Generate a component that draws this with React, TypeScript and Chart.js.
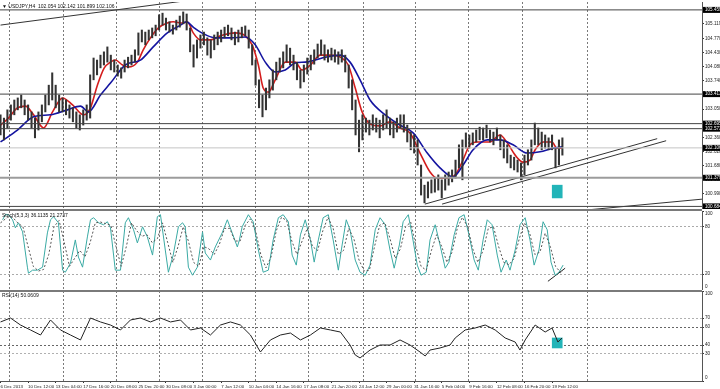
import React, { useEffect, useRef } from "react";
import { Chart, registerables } from "chart.js";
Chart.register(...registerables);

const FONT = "'Liberation Sans', Arial, sans-serif";

// ---------- data (x = sample index, one sample = 2 H4 bars) ----------
const candleHigh = [
  102.91,102.83,103.03,103.15,103.27,103.32,103.39,103.27,103.15,102.98,
  102.83,102.98,103.15,103.39,103.63,103.93,103.63,103.39,103.32,103.27,
  103.15,103.08,102.98,102.91,103.03,103.15,103.88,104.29,104.24,104.36,
  104.44,104.56,104.36,104.24,104.12,104.05,104.24,104.31,104.36,104.49,
  104.90,104.97,104.92,104.97,105.02,105.09,105.34,105.38,105.26,105.17,
  105.09,105.21,105.31,105.41,105.36,105.02,104.61,104.73,104.85,104.92,
  104.78,104.73,104.85,104.92,104.97,105.04,105.09,105.02,104.92,104.97,
  105.04,105.07,104.97,104.61,104.24,103.76,103.39,103.56,103.76,104.00,
  104.19,104.29,104.44,104.61,104.53,104.36,104.19,104.00,104.12,104.29,
  104.36,104.49,104.63,104.73,104.61,104.49,104.53,104.49,104.44,104.49,
  104.36,104.12,103.76,103.27,102.78,102.91,102.83,102.78,102.91,102.83,
  102.78,102.91,103.03,102.83,102.74,102.83,102.91,102.91,102.66,102.49,
  102.42,102.30,101.69,101.20,101.28,101.33,101.37,101.45,101.33,101.45,
  101.52,101.57,101.81,102.18,102.30,102.47,102.42,102.47,102.54,102.61,
  102.59,102.66,102.54,102.49,102.59,102.42,102.30,102.18,101.93,101.88,
  101.81,101.74,101.93,102.06,102.30,102.71,102.59,102.49,102.42,102.35,
  102.42,102.10,102.30,102.35
];
const candleLow = [
  102.42,102.30,102.59,102.78,102.91,103.03,103.08,102.91,102.78,102.59,
  102.35,102.54,102.74,102.98,103.15,103.27,103.08,102.98,102.98,102.91,
  102.83,102.74,102.59,102.54,102.66,102.78,102.83,103.76,103.88,104.05,
  104.12,104.19,104.00,103.95,103.85,103.80,103.95,104.05,104.12,104.19,
  104.36,104.68,104.61,104.73,104.78,104.83,104.97,105.09,104.97,104.92,
  104.87,104.97,105.04,105.12,104.97,104.44,104.07,104.29,104.53,104.61,
  104.36,104.29,104.49,104.61,104.68,104.78,104.83,104.73,104.61,104.68,
  104.78,104.83,104.53,104.12,103.63,103.08,102.86,103.03,103.32,103.51,
  103.76,103.95,104.05,104.19,104.12,104.00,103.76,103.56,103.71,103.90,
  104.00,104.14,104.29,104.36,104.24,104.19,104.24,104.19,104.14,104.19,
  103.95,103.56,103.03,102.42,102.01,102.30,102.49,102.42,102.54,102.49,
  102.35,102.54,102.59,102.42,102.35,102.49,102.59,102.49,102.25,102.06,
  101.98,101.69,100.96,100.77,100.89,101.01,101.03,101.08,100.89,101.08,
  101.20,101.28,101.37,101.62,101.33,102.10,102.10,102.18,102.25,102.30,
  102.30,102.35,102.25,102.18,102.30,102.06,101.86,101.74,101.62,101.57,
  101.52,101.33,101.45,101.69,101.81,102.18,102.18,102.06,102.10,102.06,
  102.06,101.62,101.69,101.93
];

const redMa = [
  [0,102.66],[2.3,102.83],[4.9,103.08],[7.2,103.12],[9.6,102.91],[12.5,102.59],[15.1,102.98],
  [18,103.32],[20.9,103.15],[24.1,102.91],[26.1,103.08],[28.1,103.63],[30.1,104.05],[31.9,104.19],
  [33.3,104.24],[35.4,104.12],[37.1,104.07],[39.7,104.19],[41.4,104.49],[43.5,104.78],[45.8,105.02],
  [48.4,105.14],[50.1,105.17],[52.8,105.14],[54.2,105.17],[55.9,104.90],[58,104.73],[60.9,104.73],
  [63.8,104.83],[68.1,104.90],[71,104.83],[73,104.61],[74.8,104.12],[76.2,103.56],[77.7,103.46],
  [79.7,103.76],[82.6,104.19],[85.5,104.19],[87.5,104.00],[89.9,104.12],[92.8,104.36],[95.7,104.36],
  [98.6,104.31],[100.9,104.12],[102.9,103.56],[104.9,102.98],[107.2,102.69],[110.1,102.64],[113,102.74],
  [115.9,102.59],[118.8,102.47],[121.7,101.98],[124.6,101.52],[126.7,101.37],[129.6,101.37],[131.9,101.45],
  [133.9,101.76],[136.2,102.18],[138.3,102.25],[142,102.25],[144.9,102.42],[147,102.23],[149.3,101.93],
  [151.6,101.76],[153.6,101.81],[155.1,102.06],[157.4,102.25],[160,102.25],[161.4,102.10],[162.9,102.10]
];
const blueMa = [
  [0,102.25],[4.9,102.54],[9.6,102.86],[14.5,102.91],[19.4,103.03],[23.2,103.12],[25.5,102.98],
  [29,103.39],[31.9,103.68],[36.2,104.12],[40.6,104.24],[44.3,104.56],[48.4,104.90],[52.2,105.09],
  [53.9,105.17],[55.9,105.04],[58,104.92],[62.3,104.78],[66.7,104.78],[71,104.80],[73.9,104.61],
  [76.8,104.19],[79.7,103.95],[82.6,104.00],[85.5,104.17],[88.4,104.19],[91.3,104.24],[94.2,104.31],
  [98.6,104.36],[101.4,104.19],[104.3,103.76],[107.2,103.27],[111.6,102.91],[115.9,102.66],[119.7,102.47],
  [123.8,101.98],[127.5,101.62],[131.3,101.40],[134.2,101.69],[137.1,102.06],[141.2,102.30],[144.9,102.30],
  [148.7,102.18],[152.8,101.98],[156.5,102.01],[160.3,102.10],[162.9,102.13]
];

const stochMain = [
  [0.6,88.9],[1.4,95.3],[2.3,95.3],[3.5,88.9],[4.3,78.7],[5.2,85.1],[6.4,73.6],[7.8,28.9],[8.1,21.3],
  [9.3,25.1],[10.7,25.1],[12.2,28.9],[13.6,72.3],[14.5,88.9],[15.4,92.8],[16.8,85.1],[18,25.1],[18.8,22.5],
  [20.3,34],[21.7,63.4],[22.6,41.7],[23.8,28.9],[25.2,67.2],[26.1,88.9],[27,91.5],[28.4,85.1],[29.9,82.6],
  [31,86.4],[31.9,78.7],[33.3,25.1],[34.8,25.1],[36.2,85.1],[37.1,91.5],[38.6,76.2],[39.7,59.6],[41.2,80],
  [42.6,67.2],[44.1,44.2],[45.5,92.8],[46.4,95.3],[47.8,50.6],[48.7,22.5],[50.1,44.2],[51.6,80],[52.8,85.1],
  [53.6,80],[54.5,28.9],[55.7,18.7],[57.1,28.9],[58.6,73.6],[59.4,46.8],[60.9,37.9],[62.3,54.5],[64.3,72.3],
  [65.8,88.9],[67.2,72.3],[68.7,54.5],[69.3,63.4],[70.1,80],[71.9,95.3],[73.3,86.4],[74.8,50.6],[76.2,22.5],
  [77.7,25.1],[79.1,63.4],[80.6,91.5],[82,95.3],[83.5,86.4],[84.6,44.2],[85.8,31.5],[87,69.8],[88.4,88.9],
  [89.9,63.4],[91,35.3],[92.2,63.4],[93.6,91.5],[95.1,95.3],[96.5,63.4],[98,25.1],[99.1,57],[100.3,88.9],
  [101.4,76.2],[102.9,37.9],[104.3,22.5],[105.8,18.7],[107.2,31.5],[108.7,76.2],[110.1,91.5],[111.6,82.6],
  [113,50.6],[114.2,27.6],[115.7,57],[116.8,86.4],[118.3,95.3],[119.4,69.8],[120.9,31.5],[122,18.7],
  [123.5,22.5],[124.6,63.4],[126.1,82.6],[127.5,57],[129,27.6],[130.1,35.3],[131.6,69.8],[133,91.5],
  [134.5,95.3],[135.9,69.8],[137.4,37.9],[138.6,25.1],[140,63.4],[141.2,88.9],[142.6,82.6],[144.1,44.2],
  [145.2,22.5],[146.7,37.9],[147.8,25.1],[149.3,50.6],[150.7,82.6],[152.2,91.5],[153.6,63.4],[154.8,31.5],
  [156.2,50.6],[157.4,86.4],[158.6,76.2],[159.7,35.3],[160.9,18.7],[162,22.5],[163.2,31.5]
];
const stochSignal = [
  [0,85],[2,92],[3.5,92],[5,85],[6.5,80],[8,55],[9.5,30],[11,24],[12.5,26],[14,45],[15.5,80],[17,88],
  [18.5,60],[20,30],[21.5,40],[23,50],[24.5,42],[26,60],[27.5,85],[29,86],[30.5,84],[32,82],[33.5,55],
  [35,30],[36.5,55],[38,85],[39.5,75],[41,68],[42.5,70],[44,60],[45.5,65],[47,85],[48.5,60],[50,35],
  [51.5,55],[53,80],[54.5,62],[56,35],[57.5,30],[59,55],[60.5,52],[62,45],[63.5,58],[65,78],[66.5,78],
  [68,62],[69.5,62],[71,82],[72.5,90],[74,75],[75.5,45],[77,28],[78.5,42],[80,75],[81.5,92],[83,88],
  [84.5,62],[86,45],[87.5,62],[89,78],[90.5,55],[92,50],[93.5,75],[95,92],[96.5,78],[98,45],[99.5,50],
  [101,78],[102.5,65],[104,38],[105.5,24],[107,25],[108.5,55],[110,82],[111.5,85],[113,65],[114.5,40],
  [116,52],[117.5,80],[119,86],[120.5,55],[122,30],[123.5,25],[125,50],[126.5,70],[128,55],[129.5,35],
  [131,48],[132.5,78],[134,92],[135.5,80],[137,52],[138.5,35],[140,50],[141.5,78],[143,80],[144.5,55],
  [146,35],[147.5,32],[149,40],[150.5,65],[152,85],[153.5,72],[155,45],[156.5,48],[158,72],[159.5,55],
  [161,30],[162.5,22],[163.2,25]
];
const rsiValues = [
  [0,65.6],[2.9,70],[5.8,62.2],[8.7,56.7],[11.6,51.1],[14.5,67.8],[17.4,56.7],[20.3,51.1],[23.2,45.6],
  [26.1,70],[29,65.6],[31.9,62.2],[34.8,56.7],[37.7,67.8],[40.6,70],[43.5,65.6],[46.4,70],[49.3,65.6],
  [52.2,67.8],[55.1,56.7],[58,58.9],[60.9,51.1],[63.8,62.2],[66.7,65.6],[69.6,62.2],[72.5,51.1],[75.4,32.2],
  [78.3,45.6],[81.2,51.1],[84.1,53.3],[87,45.6],[89.9,51.1],[92.8,58.9],[95.7,56.7],[98.6,54.4],[101.4,40],
  [102.9,28.9],[104.3,25.6],[107.2,34.4],[110.1,40],[113,40],[115.9,45.6],[118.8,40],[121.7,32.2],
  [123.2,27.8],[124.6,34.4],[127.5,36.7],[130.4,40],[131.9,47.8],[134.8,56.7],[137.7,58.9],[140.6,62.2],
  [143.5,56.7],[146.4,47.8],[149.3,43.3],[150.7,34.4],[152.2,45.6],[155.1,62.2],[158,54.4],[160,58.9],
  [161.7,43.3],[162.9,47.8]
];

const priceTickLabels = ["105.119","104.770","104.430","104.080","103.740","103.390","103.050",
  "102.700","102.360","102.020","101.680","101.330","100.990","100.650"];
const levelPrices = [105.459, 103.413, 102.695, 102.573, 102.106, 101.379, 100.684];
const trendTop = [[0,105.09],[60,105.75]];
const trendBottom = [[170.4,100.60],[203.5,100.86]];
const channelUpper = [[123.1,100.74],[190.5,102.33]];
const channelLower = [[128.1,100.74],[193.1,102.28]];
const stochTrend = [[158.8,11],[163.8,27.6]];
const markerPos = 161.5;
const markerPrice = [100.89, 101.20];
const markerRsi = [36.7, 47.8];

const weekStarts = [2.6,18.3,33.6,46.1,58.6,73.9,89.3,105.2,120.3,135.7,151.3,170.4];
const timeLabels = ["6 Dec 2013","10 Dec 12:00","13 Dec 04:00","17 Dec 16:00","20 Dec 08:00",
  "25 Dec 20:00","30 Dec 08:00","3 Jan 00:00","7 Jan 12:00","10 Jan 04:00","14 Jan 16:00",
  "17 Jan 08:00","21 Jan 20:00","24 Jan 12:00","29 Jan 00:00","31 Jan 16:00","5 Feb 04:00",
  "9 Feb 16:00","12 Feb 08:00","16 Feb 20:00","19 Feb 12:00"];
const stochTicks = [0, 20, 80, 100];
const stochLevels = [20, 80];
const rsiTicks = [0, 30, 40, 60, 70, 100];
const rsiLevels = [30, 40, 60, 70];

const mainTitle = "\u25BC USDJPY,H4  102.054 102.142 101.899 102.106";
const stochTitle = "Stoch(5,3,3) 36.1135 21.2737";
const rsiTitle = "RSI(14) 50.0609";

// ---------- view constants ----------
const X_MIN = -0.15, X_MAX = 203.5;
const Y_MIN = 100.621, Y_MAX = 105.651;
const levelColors = ["#444","#444","#444","#444","#c4c4c4","#9c9c9c","#444"];
const levelWidths = [1,1,1,1,1,2,1];

const pts = (arr: number[][]) => arr.map(([x, y]) => ({ x, y }));

function zeroPad(s: any) { s.paddingTop = 0; s.paddingBottom = 0; s.paddingLeft = 0; s.paddingRight = 0; }

function xGrid(): any {
  return {
    type: "linear", min: X_MIN, max: X_MAX, position: "bottom", offset: false,
    afterBuildTicks: (s: any) => { s.ticks = weekStarts.map((v) => ({ value: v })); },
    afterFit: (s: any) => { s.height = 0; zeroPad(s); },
    ticks: { display: false },
    grid: { color: "#7a7a7a", lineWidth: 1, drawTicks: false, offset: false },
    border: { display: false, dash: [2, 2] },
  };
}

function yAxis(min: number, max: number, vals: number[], label: (v: number) => string, levels: number[] | null, levelColor?: (v: number) => string): any {
  return {
    position: "right", min, max,
    afterBuildTicks: (s: any) => { s.ticks = vals.map((v) => ({ value: v })); },
    afterFit: (s: any) => { s.width = 18; zeroPad(s); },
    ticks: { callback: (v: any) => label(Number(v)), font: { size: 4.6, family: FONT }, color: "#222", padding: 1, autoSkip: false },
    grid: {
      drawOnChartArea: !!levels, drawTicks: true, tickLength: 2, tickColor: "#333",
      color: (c: any) => (levels && c.tick && levels.includes(c.tick.value) ? (levelColor ? levelColor(c.tick.value) : "#aaa") : "rgba(0,0,0,0)"),
    },
    border: { color: "#555", width: 1, dash: [2, 2] },
  };
}

const lineDs = (data: number[][], color: string, width: number, extra: any = {}) => ({
  type: "line", data: pts(data), borderColor: color, borderWidth: width, pointRadius: 0,
  tension: 0, fill: false, xAxisID: "x", yAxisID: "y", ...extra,
});

function textPlugin(title: string, edge: string[] | null) {
  return {
    id: "deco",
    afterDraw(chart: any) {
      const { ctx, chartArea } = chart;
      ctx.save();
      ctx.fillStyle = "#111";
      ctx.font = `5px ${FONT}`;
      ctx.textBaseline = "middle";
      ctx.textAlign = "left";
      ctx.fillText(title, 2, chartArea.top + 5);
      if (edge) {
        ctx.font = `4.6px ${FONT}`;
        ctx.fillStyle = "#222";
        ctx.fillText(edge[0], chartArea.right + 3, chartArea.top + 3);
        ctx.fillText(edge[1], chartArea.right + 3, chartArea.bottom - 3);
      }
      ctx.restore();
    },
  };
}

const levelPlugin = {
  id: "levels",
  afterDraw(chart: any) {
    const { ctx } = chart;
    const ys = chart.scales.y;
    ctx.save();
    ctx.font = `4.6px ${FONT}`;
    ctx.textBaseline = "middle";
    levelPrices.forEach((p) => {
      const py = ys.getPixelForValue(p);
      ctx.fillStyle = "#000";
      ctx.fillRect(ys.left + 1, py - 3, 20, 6);
      ctx.fillStyle = "#fff";
      ctx.fillText(p.toFixed(3), ys.left + 3, py);
    });
    ctx.restore();
  },
};

export default function App() {
  const mainRef = useRef<HTMLCanvasElement>(null);
  const stochRef = useRef<HTMLCanvasElement>(null);
  const rsiRef = useRef<HTMLCanvasElement>(null);

  useEffect(() => {
    const base: any = {
      animation: false, responsive: false, maintainAspectRatio: false,
      events: [],
      plugins: { legend: { display: false }, tooltip: { enabled: false } },
    };

    const main = new Chart(mainRef.current!, {
      type: "bar",
      data: {
        datasets: [
          ...levelPrices.map((p, i) => lineDs([[X_MIN, p], [X_MAX, p]], levelColors[i], levelWidths[i])),
          {
            type: "bar", data: candleHigh.map((h, i) => ({ x: i, y: [candleLow[i], h] })),
            backgroundColor: "#333333", barThickness: 1.4, grouped: false, xAxisID: "x", yAxisID: "y",
          },
          lineDs(trendTop, "#333", 1),
          lineDs(trendBottom, "#333", 1),
          lineDs(channelUpper, "#333", 1),
          lineDs(channelLower, "#333", 1),
          lineDs(blueMa, "#1414a0", 1.6, { cubicInterpolationMode: "monotone" }),
          lineDs(redMa, "#d41c1c", 1.6, { cubicInterpolationMode: "monotone" }),
          {
            type: "bar", data: [{ x: markerPos, y: markerPrice }], backgroundColor: "#22b4b8",
            barThickness: 10, grouped: false, xAxisID: "x", yAxisID: "y",
          },
        ] as any,
      },
      options: {
        ...base,
        layout: { padding: { top: 2, bottom: 0, left: 0, right: 0 }, autoPadding: false },
        scales: {
          x: xGrid(),
          y: yAxis(Y_MIN, Y_MAX, priceTickLabels.map(Number), (v) => priceTickLabels.find((t) => Math.abs(Number(t) - v) < 1e-6) || "", null),
        },
      },
      plugins: [textPlugin(mainTitle, null), levelPlugin],
    } as any);

    const stoch = new Chart(stochRef.current!, {
      type: "line",
      data: {
        datasets: [
          lineDs(stochSignal, "#555", 1, { borderDash: [2, 2] }),
          lineDs(stochMain, "#3aaaa4", 1),
          lineDs(stochTrend, "#222", 1),
        ] as any,
      },
      options: {
        ...base,
        layout: { padding: 0, autoPadding: false },
        scales: {
          x: xGrid(),
          y: yAxis(0, 100, stochTicks, (v) => (v === 0 || v === 100 ? "" : String(v)), stochLevels),
        },
      },
      plugins: [textPlugin(stochTitle, ["100", "0"])],
    } as any);

    const rsi = new Chart(rsiRef.current!, {
      type: "line",
      data: {
        datasets: [
          lineDs(rsiValues, "#222", 1),
          {
            type: "bar", data: [{ x: markerPos, y: markerRsi }], backgroundColor: "#22b4b8",
            barThickness: 10, grouped: false, xAxisID: "x", yAxisID: "y",
          },
        ] as any,
      },
      options: {
        ...base,
        layout: { padding: 0, autoPadding: false },
        scales: {
          x: xGrid(),
          xl: {
            type: "linear", min: X_MIN, max: X_MAX, position: "bottom", offset: false,
            afterBuildTicks: (s: any) => { s.ticks = timeLabels.map((_, k) => ({ value: k * 8 })); },
            afterFit: (s: any) => { s.height = 8; zeroPad(s); },
            ticks: {
              callback: (v: any) => timeLabels[Math.round(Number(v) / 8)] || "",
              align: "start", autoSkip: false, maxRotation: 0, minRotation: 0,
              font: { size: 4.4, family: FONT }, color: "#222", padding: 1,
            },
            grid: { drawOnChartArea: false, drawTicks: true, tickLength: 2, color: "#333", offset: false },
            border: { color: "#555", width: 1 },
          },
          y: yAxis(0, 100, rsiTicks, (v) => (v === 0 || v === 100 ? "" : String(v)), rsiLevels,
            (v) => (v === 40 || v === 60 ? "#666" : "#b0b0b0")),
        },
      },
      plugins: [textPlugin(rsiTitle, ["100", "0"])],
    } as any);

    return () => { main.destroy(); stoch.destroy(); rsi.destroy(); };
  }, []);

  const abs = (top: number, h: number): React.CSSProperties => ({ position: "absolute", left: 0, top, width: 720, height: h, display: "block" });

  return (
    <div style={{ position: "absolute", left: 0, top: 0, width: 720, height: 389, background: "#fff", overflow: "hidden" }}>
      <canvas ref={mainRef} width={720} height={209} style={abs(0, 209)} />
      <canvas ref={stochRef} width={720} height={79} style={abs(211, 79)} />
      <canvas ref={rsiRef} width={720} height={98} style={abs(291, 98)} />
      <div style={{ position: "absolute", left: 0, top: 209, width: 702, height: 2, background: "#7a7a7a" }} />
      <div style={{ position: "absolute", left: 0, top: 290, width: 702, height: 2, background: "#7a7a7a" }} />
    </div>
  );
}
